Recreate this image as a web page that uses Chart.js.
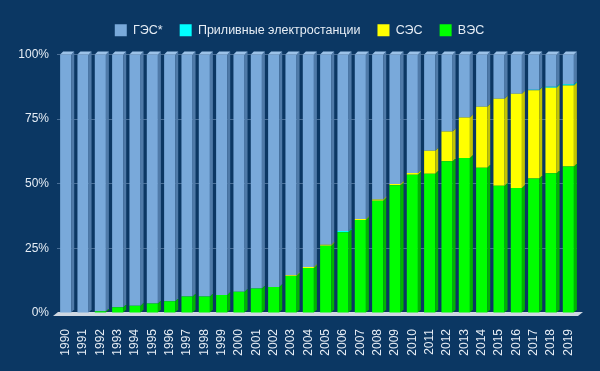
<!DOCTYPE html>
<html>
<head>
<meta charset="utf-8">
<script src="https://cdn.jsdelivr.net/npm/chart.js@4"></script>
<style>
html,body{margin:0;padding:0;background:#0b3763;}
#wrap{width:600px;height:371px;position:relative;}
</style>
</head>
<body>
<div id="wrap"><canvas id="c" width="600" height="371"></canvas></div>
<script>
const years = ['1990','1991','1992','1993','1994','1995','1996','1997','1998','1999','2000','2001','2002','2003','2004','2005','2006','2007','2008','2009','2010','2011','2012','2013','2014','2015','2016','2017','2018','2019'];
const windShare  = [0,0,0.7,2.2,2.8,3.7,4.5,6.4,6.4,7.0,8.2,9.5,10.1,14.3,17.4,26.0,31.2,36.0,43.4,49.4,53.5,53.9,58.7,60.0,56.2,49.2,48.4,52.0,54.1,56.7];
const solarShare = [0,0,0,0,0,0,0,0,0,0,0,0,0,0.3,0.4,0.4,0,0.4,0.5,0.5,0.7,8.9,11.5,15.6,23.6,33.7,36.4,34.2,33.0,31.3];
const tidalShare = [0,0,0,0,0,0,0,0,0,0,0,0,0,0,0,0,0.5,0,0,0,0,0,0,0,0,0,0,0.2,0.4,0.5];
const hydroShare = [100,100,99.3,97.8,97.2,96.3,95.5,93.6,93.6,93.0,91.8,90.5,89.9,85.4,82.2,73.6,68.3,63.6,56.1,50.1,45.8,37.2,29.8,24.4,20.2,17.1,15.2,13.6,12.5,11.5];
const yTicks = [0,25,50,75,100];

const sideColors = ['#00b400','#c4c400','#00b8b8','#4f7aa8'];
const topColors  = ['#66ff66','#ffff88','#88ffff','#9cc2e8'];
const D = 3;

const depthPlugin = {
  id: 'depth',
  beforeLayout(chart) {
    const lg = chart.legend;
    if (lg && !lg._extraWrapped) {
      const f = lg.fit.bind(lg);
      lg.fit = function () { f(); this.height += 8; };
      lg._extraWrapped = true;
    }
  },
  afterLayout(chart) {
    if (chart.legend) { chart.legend.right += 22; }
  },
  beforeDatasetsDraw(chart) {
    const ctx = chart.ctx, ca = chart.chartArea;
    ctx.save();
    ctx.fillStyle = '#cfd8e2';
    ctx.beginPath();
    ctx.moveTo(ca.left - 4, ca.bottom + 3);
    ctx.lineTo(ca.right + 1, ca.bottom + 3);
    ctx.lineTo(ca.right + 6, ca.bottom - 1);
    ctx.lineTo(ca.left + 1, ca.bottom - 1);
    ctx.closePath();
    ctx.fill();
    ctx.restore();
  },
  afterDatasetsDraw(chart) {
    const ctx = chart.ctx;
    ctx.save();
    const n = chart.data.datasets.length;
    for (let i = 0; i < n; i++) {
      const meta = chart.getDatasetMeta(i);
      meta.data.forEach((bar, j) => {
        const {x, y, base, width} = bar.getProps(['x','y','base','width'], true);
        if (Math.abs(base - y) < 0.05) return;
        const r = x + width / 2, l = x - width / 2;
        ctx.fillStyle = sideColors[i];
        ctx.beginPath();
        ctx.moveTo(r, y); ctx.lineTo(r + D, y - D); ctx.lineTo(r + D, base - D); ctx.lineTo(r, base);
        ctx.closePath(); ctx.fill();
        let isTop = true;
        for (let k = i + 1; k < n; k++) { if (chart.data.datasets[k].data[j] > 0) { isTop = false; break; } }
        if (isTop) {
          ctx.fillStyle = topColors[i];
          ctx.beginPath();
          ctx.moveTo(l, y); ctx.lineTo(l + D, y - D); ctx.lineTo(r + D, y - D); ctx.lineTo(r, y);
          ctx.closePath(); ctx.fill();
        }
      });
    }
    ctx.restore();
  }
};

const bgPlugin = {
  id: 'bg',
  beforeDraw(chart) {
    const ctx = chart.ctx;
    ctx.save();
    ctx.fillStyle = '#0b3763';
    ctx.fillRect(0, 0, chart.width, chart.height);
    ctx.restore();
  }
};

new Chart(document.getElementById('c'), {
  type: 'bar',
  data: {
    labels: years,
    datasets: [
      {label: 'ВЭС', data: windShare, backgroundColor: '#00ff00'},
      {label: 'СЭС', data: solarShare, backgroundColor: '#ffff00'},
      {label: 'Приливные электростанции', data: tidalShare, backgroundColor: '#00ffff'},
      {label: 'ГЭС*', data: hydroShare, backgroundColor: '#79a9da'}
    ]
  },
  options: {
    responsive: false,
    animation: false,
    layout: {padding: {left: 0, right: 23, top: 7, bottom: 0}},
    datasets: {bar: {barPercentage: 0.64, categoryPercentage: 1.0, borderWidth: 0}},
    plugins: {
      legend: {
        reverse: true,
        labels: {
          color: '#e6edf5',
          font: {family: 'Liberation Sans', size: 12.5},
          boxWidth: 12, boxHeight: 12, padding: 17
        }
      },
      tooltip: {enabled: false}
    },
    scales: {
      x: {
        stacked: true,
        grid: {display: false},
        border: {display: false},
        ticks: {color: '#e6edf5', font: {family: 'Liberation Sans', size: 12}, minRotation: 90, maxRotation: 90, padding: 8, autoSkip: false},
        afterFit(s) { s.height = 58; }
      },
      y: {
        stacked: true,
        min: 0, max: 100,
        afterBuildTicks(s) { s.ticks = yTicks.map(v => ({value: v})); },
        grid: {color: 'rgba(150,180,215,0.45)', drawTicks: false},
        border: {display: false},
        ticks: {color: '#e6edf5', font: {family: 'Liberation Sans', size: 12}, padding: 8, callback: v => v + '%'},
        afterFit(s) { s.width = 57; }
      }
    }
  },
  plugins: [bgPlugin, depthPlugin]
});
</script>
</body>
</html>
